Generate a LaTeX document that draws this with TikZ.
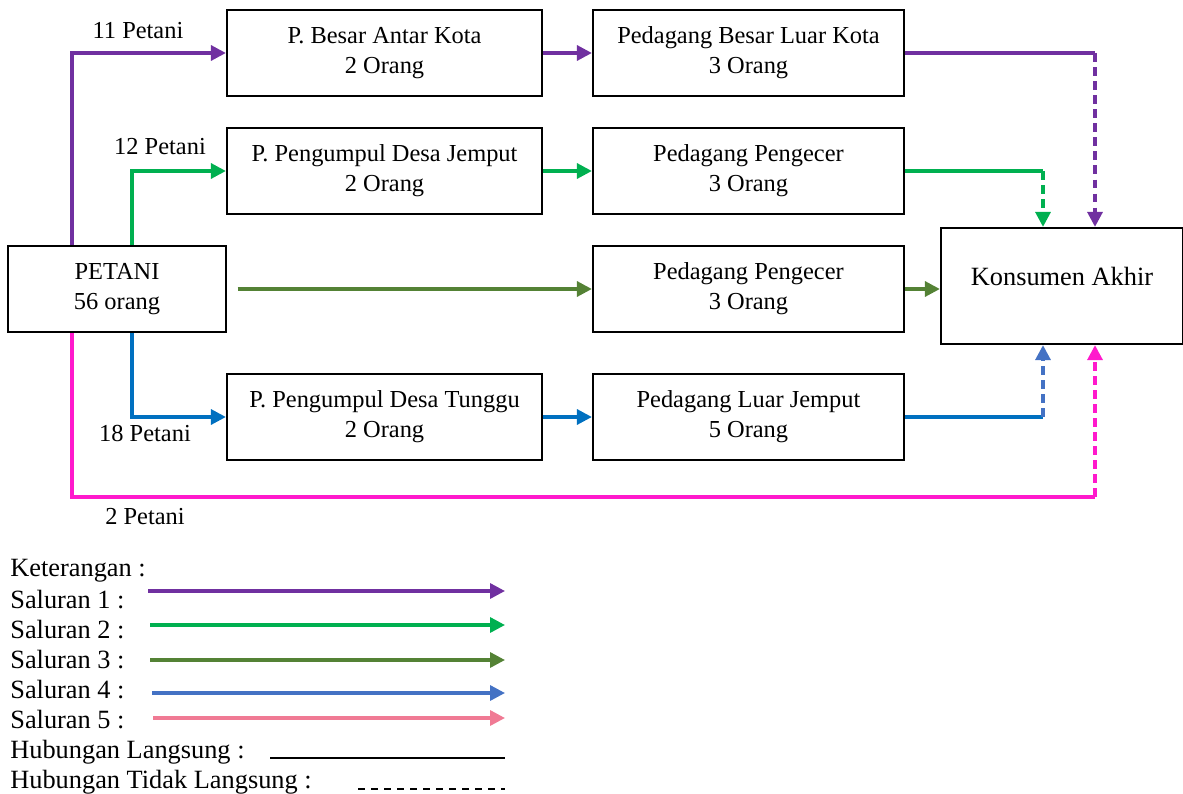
\documentclass[tikz,border=0pt]{standalone}
\usepackage{fontspec}
\setmainfont{Liberation Serif}
\usepackage{xcolor}
\usetikzlibrary{arrows.meta}
\definecolor{ungu}{HTML}{7030A0}
\definecolor{hijau}{HTML}{00B050}
\definecolor{hijautua}{HTML}{548235}
\definecolor{biru}{HTML}{0070C0}
\definecolor{birumuda}{HTML}{4472C4}
\definecolor{magenta}{HTML}{FF19CC}
\definecolor{merahmuda}{HTML}{F07A94}

\begin{document}
\begin{tikzpicture}[x=0.02cm,y=-0.02cm,
    font=\fontsize{13.9}{17}\selectfont,
    kotak/.style={draw,line width=1.3pt,align=center,minimum height=1.72cm,inner sep=2pt},
    jalur/.style={line width=1.9pt},
    panah/.style={-{Triangle[length=8.5pt,width=8.5pt]}},
    putus/.style={dash pattern=on 5pt off 3pt},
    ket/.style={anchor=west,inner sep=0pt,font=\fontsize{15}{18}\selectfont}]
  \useasboundingbox (0,0) rectangle (1183,794);

  % kotak-kotak
  \node[kotak,minimum width=4.36cm] (petani) at (117,289) {PETANI\\56 orang};
  \node[kotak,minimum width=6.3cm] (besar) at (384.5,53) {P. Besar Antar Kota\\2 Orang};
  \node[kotak,minimum width=6.22cm] (luarkota) at (748.5,53) {Pedagang Besar Luar Kota\\3 Orang};
  \node[kotak,minimum width=6.3cm] (jemput) at (384.5,171) {P. Pengumpul Desa Jemput\\2 Orang};
  \node[kotak,minimum width=6.22cm] (pengecer) at (748.5,171) {Pedagang Pengecer\\3 Orang};
  \node[kotak,minimum width=6.22cm] (pengecerb) at (748.5,289) {Pedagang Pengecer\\3 Orang};
  \node[kotak,minimum width=6.3cm] (tunggu) at (384.5,417) {P. Pengumpul Desa Tunggu\\2 Orang};
  \node[kotak,minimum width=6.22cm] (luarjemput) at (748.5,417) {Pedagang Luar Jemput\\5 Orang};
  \node[kotak,minimum width=4.84cm,minimum height=2.32cm,font=\fontsize{15}{18}\selectfont,text depth=11pt] (konsumen) at (1062,286) {Konsumen Akhir};

  \coordinate (kiri) at (72,0);
  \coordinate (tengah) at (132,0);
  \coordinate (ujung) at (1095,0);
  \coordinate (ujungb) at (1043,0);
  \coordinate (bawah) at (0,497);

  % saluran 1
  \draw[jalur,ungu,panah] (petani.north -| kiri) |- (besar.west);
  \draw[jalur,ungu,panah] (besar.east) -- (luarkota.west);
  \draw[jalur,ungu] (luarkota.east) -- (luarkota.east -| ujung);
  \draw[jalur,ungu,putus,panah] (luarkota.east -| ujung) -- (konsumen.north -| ujung);
  % saluran 2
  \draw[jalur,hijau,panah] (petani.north -| tengah) |- (jemput.west);
  \draw[jalur,hijau,panah] (jemput.east) -- (pengecer.west);
  \draw[jalur,hijau] (pengecer.east) -- (pengecer.east -| ujungb);
  \draw[jalur,hijau,putus,panah] (pengecer.east -| ujungb) -- (konsumen.north -| ujungb);
  % saluran 3
  \draw[jalur,hijautua,panah] ([xshift=6pt]petani.east) -- (pengecerb.west);
  \draw[jalur,hijautua,panah] (pengecerb.east) -- (pengecerb.east -| konsumen.west);
  % saluran 4
  \draw[jalur,biru,panah] (petani.south -| tengah) |- (tunggu.west);
  \draw[jalur,biru,panah] (tunggu.east) -- (luarjemput.west);
  \draw[jalur,biru] (luarjemput.east) -- (luarjemput.east -| ujungb);
  \draw[jalur,birumuda,putus,panah] (luarjemput.east -| ujungb) -- (konsumen.south -| ujungb);
  % saluran 5
  \draw[jalur,magenta] (petani.south -| kiri) -- (kiri |- bawah) -- (bawah -| ujung);
  \draw[jalur,magenta,putus,panah] (bawah -| ujung) -- (konsumen.south -| ujung);

  \node (l11) at (138,31) {11 Petani};
  \node (l12) at (160,147) {12 Petani};
  \node (l18) at (145,433) {18 Petani};
  \node (l2) at (145,517) {2 Petani};

  % keterangan
  \node[ket] (keterangan) at (10,571) {Keterangan :};
  \foreach \i/\ty/\ay/\ax/\warna in {1/600/591/148/ungu,2/630/625/150/hijau,3/660/660/150/hijautua,4/690/693/152/birumuda,5/720/718/153/merahmuda}{
    \node[ket] (sal\i) at (10,\ty) {Saluran \i\ :};
    \coordinate (a\i) at (\ax,\ay);
    \coordinate (b\i) at (505,\ay);
    \draw[jalur,\warna,panah] (a\i) -- (b\i);
  }
  \node[ket] (langsung) at (10,752) {Hubungan Langsung :};
  \node[ket] (tlangsung) at (10,782) {Hubungan Tidak Langsung :};
  \coordinate (c1) at (270,758);
  \coordinate (c2) at (505,758);
  \coordinate (d1) at (358,789);
  \coordinate (d2) at (505,789);
  \draw[line width=1.4pt] (c1) -- (c2);
  \draw[line width=1.2pt,dash pattern=on 4pt off 3.4pt] (d1) -- (d2);
\end{tikzpicture}
\end{document}
